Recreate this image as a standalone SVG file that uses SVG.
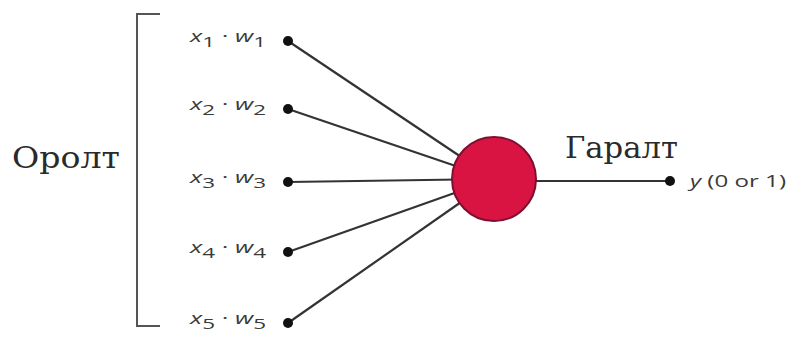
<svg xmlns="http://www.w3.org/2000/svg" width="794" height="341" viewBox="0 0 794 341">
<style>
.lbl{font-family:"Open Sans","Noto Sans",sans-serif;font-size:17px;fill:#3a3a3a}
.it{font-style:italic}
.sub{font-size:15px}
.ser{font-family:"DejaVu Serif","Liberation Serif",serif;font-size:29px;fill:#2a2a2a}
.edge{stroke:#333;stroke-width:2.2;fill:none}
.dot{fill:#111}
</style>
<rect width="794" height="341" fill="#fff"/>
<g id="connectors">
<line class="edge" x1="288" y1="41" x2="494" y2="179"/>
<line class="edge" x1="288" y1="109" x2="494" y2="179"/>
<line class="edge" x1="288" y1="182" x2="494" y2="179"/>
<line class="edge" x1="288" y1="252" x2="494" y2="179"/>
<line class="edge" x1="288" y1="323" x2="494" y2="179"/>
<line class="edge" x1="494" y1="181" x2="670" y2="181" stroke-width="2.6"/>
</g>
<g id="bracket">
<polyline points="160,14 137,14 137,326 160,326" fill="none" stroke="#555" stroke-width="2"/>
</g>
<g id="input-label"><text class="ser" x="12" y="168" textLength="108" lengthAdjust="spacingAndGlyphs">Оролт</text></g>
<g id="in1"><circle class="dot" cx="288" cy="41" r="5"/><text class="lbl" x="190" y="42" textLength="76" lengthAdjust="spacingAndGlyphs"><tspan class="it">x</tspan><tspan class="sub" dy="5">1</tspan><tspan dy="-5"> · </tspan><tspan class="it">w</tspan><tspan class="sub" dy="5">1</tspan></text></g>
<g id="in2"><circle class="dot" cx="288" cy="109" r="5"/><text class="lbl" x="190" y="110" textLength="76" lengthAdjust="spacingAndGlyphs"><tspan class="it">x</tspan><tspan class="sub" dy="5">2</tspan><tspan dy="-5"> · </tspan><tspan class="it">w</tspan><tspan class="sub" dy="5">2</tspan></text></g>
<g id="in3"><circle class="dot" cx="288" cy="182" r="5"/><text class="lbl" x="190" y="183" textLength="76" lengthAdjust="spacingAndGlyphs"><tspan class="it">x</tspan><tspan class="sub" dy="5">3</tspan><tspan dy="-5"> · </tspan><tspan class="it">w</tspan><tspan class="sub" dy="5">3</tspan></text></g>
<g id="in4"><circle class="dot" cx="288" cy="252" r="5"/><text class="lbl" x="190" y="253" textLength="76" lengthAdjust="spacingAndGlyphs"><tspan class="it">x</tspan><tspan class="sub" dy="5">4</tspan><tspan dy="-5"> · </tspan><tspan class="it">w</tspan><tspan class="sub" dy="5">4</tspan></text></g>
<g id="in5"><circle class="dot" cx="288" cy="323" r="5"/><text class="lbl" x="190" y="324" textLength="76" lengthAdjust="spacingAndGlyphs"><tspan class="it">x</tspan><tspan class="sub" dy="5">5</tspan><tspan dy="-5"> · </tspan><tspan class="it">w</tspan><tspan class="sub" dy="5">5</tspan></text></g>
<g id="neuron"><circle cx="494" cy="179" r="42" fill="#d91443" stroke="#7d1030" stroke-width="2"/></g>
<g id="output-label"><text class="ser" x="565" y="158" textLength="113" lengthAdjust="spacingAndGlyphs">Гаралт</text></g>
<g id="out"><circle class="dot" cx="670" cy="181" r="5"/><text class="lbl" x="690" y="187" font-size="15" textLength="96" lengthAdjust="spacingAndGlyphs"><tspan class="it">y</tspan> (0 or 1)</text></g>
</svg>
